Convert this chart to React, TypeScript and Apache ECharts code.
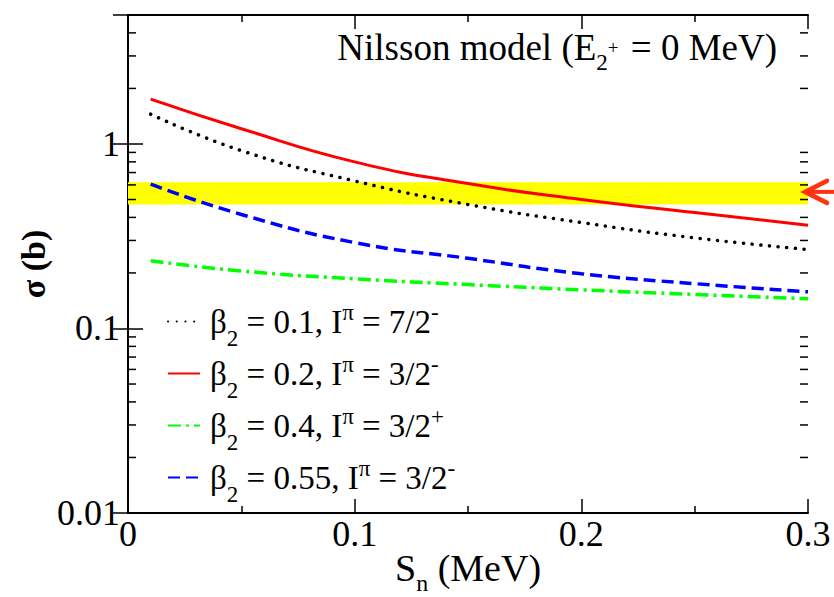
import React, { useEffect, useRef } from "react";
import * as echarts from "echarts";

// Neutron separation energy S_n (MeV)
const snValues = [0.01, 0.05, 0.1, 0.15, 0.2, 0.25, 0.3];
// Cross sections sigma (b)
const sigmaBeta01 = [1.45, 0.92, 0.63, 0.47, 0.375, 0.31, 0.268];
const sigmaBeta02 = [1.75, 1.21, 0.8, 0.61, 0.5, 0.425, 0.363];
const sigmaBeta04 = [0.233, 0.205, 0.186, 0.173, 0.162, 0.153, 0.145];
const sigmaBeta055 = [0.605, 0.415, 0.292, 0.24, 0.198, 0.175, 0.158];

const seriesNames = [
  "β2 = 0.1, Iπ = 7/2-",
  "β2 = 0.2, Iπ = 3/2-",
  "β2 = 0.4, Iπ = 3/2+",
  "β2 = 0.55, Iπ = 3/2-",
];
const legendRichLabels = [
  "{g|}{t|β}{sub|2}{t| = 0.1, I}{sup|π}{t| = 7/2}{sup|-}",
  "{g|}{t|β}{sub|2}{t| = 0.2, I}{sup|π}{t| = 3/2}{sup|-}",
  "{g|}{t|β}{sub|2}{t| = 0.4, I}{sup|π}{t| = 3/2}{sup|+}",
  "{g|}{t|β}{sub|2}{t| = 0.55, I}{sup|π}{t| = 3/2}{sup|-}",
];

// Experimental band (b) and arrow marker value
const bandRange = [0.47, 0.62];
const arrowValue = 0.55;

// Minor log ticks on y
const yMinorTicks = [
  0.02, 0.03, 0.04, 0.05, 0.06, 0.07, 0.08, 0.09,
  0.2, 0.3, 0.4, 0.5, 0.6, 0.7, 0.8, 0.9,
  2, 3, 4,
];

const xMin = 0;
const xMax = 0.3;
const xInterval = 0.1;
const yMin = 0.01;
const yMax = 5;

const FONT = "'Liberation Serif', 'Times New Roman', serif";

export default function App() {
  const ref = useRef<HTMLDivElement>(null);

  useEffect(() => {
    if (!ref.current) return;
    const chart = echarts.init(ref.current, undefined, { renderer: "svg" });

    const mk = (vals: number[]) => snValues.map((x, i) => [x, vals[i]]);

    const axisLineStyle = { color: "#000", width: 2 };

    const option: any = {
      animation: false,
      backgroundColor: "#fff",
      grid: {
        left: 128,
        right: 26,
        top: 15,
        bottom: 84,
        containLabel: false,
        outerBoundsMode: "none",
      },
      title: {
        text: "{t|Nilsson model (E}{sub|2}{sup|+}{t| = 0 MeV)}",
        right: 52,
        top: 21,
        textStyle: {
          fontFamily: FONT,
          fontSize: 37,
          fontWeight: "normal",
          color: "#000",
          rich: {
            t: { fontFamily: FONT, fontSize: 37, lineHeight: 42, color: "#000" },
            sub: {
              fontFamily: FONT,
              fontSize: 23,
              lineHeight: 23,
              verticalAlign: "bottom",
              padding: [0, 0, -6, 0],
              color: "#000",
            },
            sup: {
              fontFamily: FONT,
              fontSize: 19,
              lineHeight: 19,
              verticalAlign: "middle",
              padding: [0, 3, 0, 0],
              color: "#000",
            },
          },
        },
      },
      legend: {
        orient: "vertical",
        left: 162,
        top: 296,
        itemWidth: 32,
        itemHeight: 14,
        itemGap: 3,
        data: seriesNames,
        itemStyle: { opacity: 0, borderWidth: 0 },
        formatter: (name: string) => legendRichLabels[seriesNames.indexOf(name)],
        textStyle: {
          fontFamily: FONT,
          fontSize: 33,
          color: "#000",
          rich: {
            g: { width: 5 },
            t: { fontFamily: FONT, fontSize: 33, lineHeight: 41, color: "#000" },
            sub: {
              fontFamily: FONT,
              fontSize: 23,
              lineHeight: 23,
              verticalAlign: "bottom",
              padding: [0, 0, -8, 0],
              color: "#000",
            },
            sup: {
              fontFamily: FONT,
              fontSize: 23,
              lineHeight: 23,
              verticalAlign: "top",
              padding: [0, 0, 6, 0],
              color: "#000",
            },
          },
        },
      },
      xAxis: [
        {
          type: "value",
          min: xMin,
          max: xMax,
          interval: xInterval,
          position: "bottom",
          name: "{t|S}{sub|n}{t| (MeV)}",
          nameLocation: "middle",
          nameGap: 35,
          nameMoveOverlap: false,
          nameTextStyle: {
            fontFamily: FONT,
            fontSize: 38,
            color: "#000",
            verticalAlign: "top",
            rich: {
              t: { fontFamily: FONT, fontSize: 38, lineHeight: 40, color: "#000" },
              sub: {
                fontFamily: FONT,
                fontSize: 24,
                lineHeight: 24,
                verticalAlign: "bottom",
                padding: [0, 0, -7, 0],
                color: "#000",
              },
            },
          },
          axisLine: { lineStyle: axisLineStyle },
          axisTick: { inside: true, length: 14, lineStyle: { color: "#000", width: 1.5 } },
          minorTick: { show: true, splitNumber: 2, length: 7, lineStyle: { color: "#000", width: 1.5 } },
          axisLabel: {
            fontFamily: FONT,
            fontSize: 36,
            color: "#000",
            margin: 3,
            formatter: (v: number) => (v === 0 ? "0" : String(Math.round(v * 10) / 10)),
          },
          splitLine: { show: false },
        },
        {
          type: "value",
          min: xMin,
          max: xMax,
          interval: xInterval,
          position: "top",
          axisLine: { lineStyle: axisLineStyle },
          axisTick: { inside: true, length: 14, lineStyle: { color: "#000", width: 1.5 } },
          minorTick: { show: true, splitNumber: 2, length: 7, lineStyle: { color: "#000", width: 1.5 } },
          axisLabel: { show: false },
          splitLine: { show: false },
        },
      ],
      yAxis: [
        {
          type: "log",
          logBase: 10,
          min: yMin,
          max: yMax,
          position: "left",
          name: "σ (b)",
          nameLocation: "middle",
          nameRotate: 90,
          nameGap: 78,
          nameMoveOverlap: false,
          nameTextStyle: {
            fontFamily: FONT,
            fontSize: 34,
            fontWeight: "bold",
            color: "#000",
          },
          axisLine: { lineStyle: axisLineStyle },
          axisTick: { inside: true, length: 15, lineStyle: { color: "#000", width: 1.5 } },
          axisLabel: {
            fontFamily: FONT,
            fontSize: 36,
            color: "#000",
            margin: 8,
            showMaxLabel: false,
            formatter: (v: number) => String(v),
          },
          splitLine: { show: false },
        },
        {
          type: "log",
          logBase: 10,
          min: yMin,
          max: yMax,
          position: "right",
          axisLine: { lineStyle: axisLineStyle },
          axisTick: { inside: true, length: 15, lineStyle: { color: "#000", width: 1.5 } },
          axisLabel: { show: false },
          splitLine: { show: false },
        },
      ],
      series: [
        {
          type: "line",
          name: "band",
          data: [],
          silent: true,
          markArea: {
            silent: true,
            itemStyle: { color: "#ffff00", opacity: 1 },
            data: [[{ xAxis: xMin, yAxis: bandRange[0] }, { xAxis: xMax, yAxis: bandRange[1] }]],
          },
          z: 1,
        },
        {
          type: "custom",
          name: "minorTicks",
          silent: true,
          clip: false,
          data: yMinorTicks.map((v) => [xMin, v]),
          encode: { x: 0, y: 1 },
          renderItem: (_params: any, api: any) => {
            const v = api.value(1);
            const pl = api.coord([xMin, v]);
            const pr = api.coord([xMax, v]);
            return {
              type: "group",
              children: [
                {
                  type: "line",
                  shape: { x1: pl[0], y1: pl[1], x2: pl[0] + 8, y2: pl[1] },
                  style: { stroke: "#000", lineWidth: 1.5 },
                },
                {
                  type: "line",
                  shape: { x1: pr[0], y1: pr[1], x2: pr[0] - 8, y2: pr[1] },
                  style: { stroke: "#000", lineWidth: 1.5 },
                },
              ],
            };
          },
          z: 5,
        },
        {
          type: "line",
          name: seriesNames[0],
          data: mk(sigmaBeta01),
          smooth: true,
          showSymbol: false,
          symbol: "none",
          lineStyle: { color: "#000", width: 3.5, type: [0.1, 8.6], cap: "round" },
          itemStyle: { color: "#000" },
          z: 3,
        },
        {
          type: "line",
          name: seriesNames[1],
          data: mk(sigmaBeta02),
          smooth: true,
          showSymbol: false,
          symbol: "none",
          lineStyle: { color: "#ff0000", width: 3 },
          itemStyle: { color: "#ff0000" },
          z: 3,
        },
        {
          type: "line",
          name: seriesNames[2],
          data: mk(sigmaBeta04),
          smooth: true,
          showSymbol: false,
          symbol: "none",
          lineStyle: { color: "#00ff00", width: 3.5, type: [13, 5, 3, 5] },
          itemStyle: { color: "#00ff00" },
          z: 3,
        },
        {
          type: "line",
          name: seriesNames[3],
          data: mk(sigmaBeta055),
          smooth: true,
          showSymbol: false,
          symbol: "none",
          lineStyle: { color: "#0000ff", width: 3.5, type: [12, 6] },
          itemStyle: { color: "#0000ff" },
          z: 3,
        },
      ],
    };

    chart.setOption(option);

    const ay = chart.convertToPixel({ yAxisIndex: 0 }, arrowValue) as number;
    const ax = chart.convertToPixel({ xAxisIndex: 0 }, xMax) as number;
    const arrowColor = "#ff3311";
    chart.setOption({
      graphic: [
        {
          type: "line",
          shape: { x1: ax - 2, y1: ay, x2: 834, y2: ay },
          style: { stroke: arrowColor, lineWidth: 4 },
          z: 10,
        },
        {
          type: "polyline",
          shape: { points: [[ax + 19, ay - 11], [ax - 3, ay], [ax + 19, ay + 11]] },
          style: { stroke: arrowColor, lineWidth: 4.5, fill: "none", lineCap: "round", lineJoin: "miter" },
          z: 10,
        },
      ],
    });

    return () => chart.dispose();
  }, []);

  return (
    <div
      ref={ref}
      style={{ position: "absolute", left: 0, top: 0, width: 834, height: 597 }}
    />
  );
}
